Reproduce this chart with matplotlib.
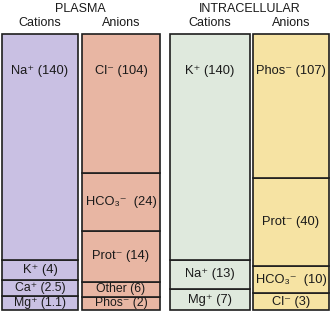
import matplotlib
matplotlib.use("Agg")
import matplotlib.pyplot as plt

plt.rcParams['font.family'] = ['Liberation Sans', 'DejaVu Sans']

# Data (listed top to bottom)
groups = ["PLASMA", "INTRACELLULAR"]
columns = ["Cations", "Anions", "Cations", "Anions"]
labels = [
    ["Na⁺ (140)", "K⁺ (4)", "Ca⁺ (2.5)", "Mg⁺ (1.1)"],
    ["Cl⁻ (104)", "HCO₃⁻  (24)", "Prot⁻ (14)", "Other (6)", "Phos⁻ (2)"],
    ["K⁺ (140)", "Na⁺ (13)", "Mg⁺ (7)"],
    ["Phos⁻ (107)", "Prot⁻ (40)", "HCO₃⁻  (10)", "Cl⁻ (3)"],
]
values = [
    [140, 4, 2.5, 1.1],
    [104, 24, 14, 6, 2],
    [140, 13, 7],
    [107, 40, 10, 3],
]
# schematic segment heights as drawn in the picture
drawn_heights = [
    [226, 20, 15.7, 14.3],
    [138.7, 58.3, 50.7, 15, 13.3],
    [226, 29, 21],
    [144, 88, 27, 17],
]
colors = ["#c9c0e3", "#e8b6a3", "#dfe9dd", "#f6e3a3"]

fig = plt.figure(figsize=(3.31, 3.11), dpi=100)
ax = fig.add_axes([0, 0, 1, 1])
ax.set_xlim(0, 331)
ax.set_ylim(-1, 310)
ax.axis('off')

centers = [40, 121, 210, 291]
widths = [76, 78, 80, 76]
fs = 9.3
hfs = 9

for i in range(4):
    hs = drawn_heights[i]
    labs = labels[i]
    bottom = 0
    # stack from bottom upward
    for j in range(len(hs) - 1, -1, -1):
        h = hs[j]
        ax.bar(centers[i], h, width=widths[i], bottom=bottom, color=colors[i],
               edgecolor="#1e1e1e", linewidth=1.2)
        if j == 0:
            ty = bottom + h - 37
        else:
            ty = bottom + h / 2
        size = fs if h > 16.5 else 8.8
        ax.text(centers[i], ty, labs[j], ha='center', va='center',
                fontsize=size, color="#1a1a1a")
        bottom += h
    ax.text(centers[i], 287, columns[i], ha='center', va='center',
            fontsize=hfs, color="#1a1a1a")

ax.text(80, 301.5, groups[0], ha='center', va='center', fontsize=hfs, color="#1a1a1a")
ax.text(250, 301.5, groups[1], ha='center', va='center', fontsize=hfs, color="#1a1a1a")

fig.savefig("out.png", dpi=100)
